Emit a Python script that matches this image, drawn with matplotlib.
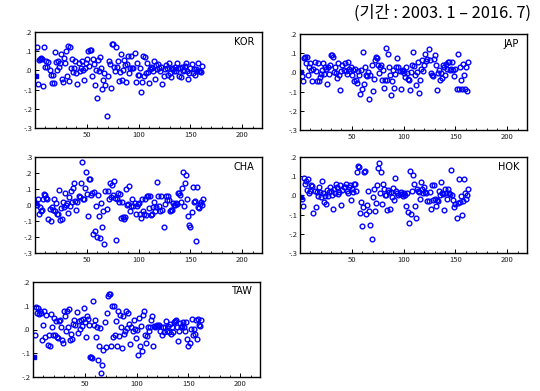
import matplotlib
matplotlib.use("Agg")
import matplotlib.pyplot as plt
import numpy as np
from matplotlib.ticker import MultipleLocator, FuncFormatter

plt.rcParams['font.family'] = ['Noto Sans CJK KR', 'DejaVu Sans']

kor = [-0.03, 0.12, -0.07, 0.055, 0.06, 0.065, 0.06, -0.08, 0.12, 0.02, 0.05, 0.02, 0.045, 0.0, -0.025, -0.065, -0.025, -0.065, 0.095, 0.045, 0.0, 0.05, 0.02, 0.04, 0.085, -0.045, -0.06, 0.065, 0.04, 0.1, -0.03, 0.125, -0.055, 0.12, 0.015, 0.06, -0.01, 0.015, 0.05, -0.015, -0.07, 0.04, -0.005, 0.015, 0.05, 0.0, -0.05, 0.015, 0.04, 0.06, 0.1, 0.025, 0.105, 0.105, -0.03, 0.06, 0.035, -0.075, 0.0, -0.145, 0.055, -0.005, 0.07, 0.015, -0.095, -0.05, -0.015, -0.075, -0.235, -0.03, 0.05, 0.035, -0.09, 0.135, 0.135, 0.02, -0.005, 0.12, 0.02, 0.05, -0.055, -0.01, 0.085, -0.05, 0.0, 0.055, 0.03, -0.06, 0.035, 0.075, -0.015, 0.01, 0.075, 0.01, 0.01, 0.09, -0.062, 0.04, -0.025, -0.025, 0.015, -0.115, -0.06, 0.075, -0.03, 0.07, -0.015, 0.04, -0.01, -0.065, 0.005, 0.02, 0.015, -0.005, 0.05, -0.045, 0.03, 0.005, 0.035, 0.015, -0.005, 0.02, -0.07, -0.03, 0.005, 0.03, 0.015, -0.025, 0.04, -0.015, -0.035, 0.015, 0.005, -0.005, 0.02, -0.005, 0.04, 0.01, -0.03, 0.015, -0.035, 0.02, -0.005, 0.0, 0.025, 0.04, -0.005, -0.045, -0.015, 0.015, 0.035, -0.015, 0.005, -0.025, 0.005, -0.005, 0.04, -0.005, -0.005, -0.008, 0.025]

jap = [0.0, -0.02, -0.045, 0.075, 0.08, 0.05, 0.08, -0.015, 0.03, 0.05, 0.012, -0.045, 0.02, 0.055, 0.005, -0.045, 0.05, -0.045, -0.025, -0.01, 0.01, 0.05, -0.008, 0.03, 0.02, -0.058, 0.03, -0.01, 0.04, 0.09, 0.09, 0.08, 0.0, 0.03, -0.005, -0.03, 0.05, -0.015, -0.09, 0.005, 0.04, 0.015, 0.05, 0.005, -0.008, 0.055, 0.02, 0.005, 0.03, -0.015, 0.015, -0.045, 0.02, -0.04, -0.055, 0.005, -0.015, -0.11, 0.015, -0.085, 0.105, -0.06, 0.03, -0.015, -0.02, 0.0, -0.14, -0.015, 0.04, -0.095, -0.035, 0.065, 0.08, 0.075, 0.04, -0.005, 0.03, 0.04, -0.04, 0.01, -0.08, -0.04, 0.125, -0.04, 0.095, 0.03, -0.015, -0.12, -0.045, 0.01, -0.08, -0.01, 0.03, 0.075, 0.03, 0.005, -0.085, 0.008, 0.01, -0.002, -0.025, 0.03, -0.002, -0.035, -0.04, -0.09, 0.0, 0.04, 0.105, 0.035, -0.015, -0.065, 0.0, 0.055, -0.105, -0.038, 0.02, 0.065, 0.005, 0.04, 0.095, 0.06, 0.07, 0.12, 0.065, -0.005, -0.015, -0.02, 0.07, 0.09, 0.04, -0.09, -0.005, 0.01, -0.04, -0.005, -0.03, 0.04, 0.03, -0.015, 0.045, 0.02, 0.055, 0.055, 0.01, 0.02, 0.055, 0.015, -0.02, 0.02, -0.085, 0.095, -0.085, 0.03, -0.04, -0.085, 0.045, -0.015, -0.088, 0.03, -0.098, 0.055]

cha = [0.01, 0.0, 0.035, -0.055, -0.01, -0.035, -0.03, 0.035, 0.07, 0.06, 0.045, 0.035, -0.085, -0.025, -0.1, -0.01, -0.03, 0.04, -0.04, 0.015, -0.055, -0.055, 0.095, -0.095, -0.02, -0.085, 0.02, -0.01, 0.075, 0.0, 0.01, -0.05, 0.05, -0.005, 0.085, 0.02, 0.105, 0.135, 0.025, -0.03, 0.02, 0.055, 0.05, 0.14, 0.27, 0.04, 0.035, 0.105, 0.205, 0.07, -0.07, 0.165, 0.165, 0.065, 0.075, -0.18, 0.08, -0.165, -0.005, -0.2, 0.065, -0.07, -0.205, 0.01, -0.135, -0.04, -0.245, 0.085, -0.025, 0.09, 0.04, 0.14, 0.05, 0.125, 0.06, 0.15, 0.045, -0.22, 0.04, 0.075, 0.02, 0.07, -0.08, 0.02, -0.075, -0.09, -0.078, 0.1, 0.0, 0.005, 0.12, -0.04, -0.005, 0.04, -0.005, 0.015, -0.055, -0.005, 0.005, 0.01, -0.055, -0.08, 0.04, -0.04, -0.055, 0.04, -0.06, 0.055, 0.055, -0.02, 0.055, -0.06, -0.055, -0.01, 0.02, -0.04, -0.01, 0.145, 0.055, -0.005, -0.035, 0.055, -0.03, -0.14, 0.005, 0.055, 0.03, 0.055, 0.03, -0.04, -0.03, -0.03, 0.01, 0.0, 0.0, 0.01, 0.005, 0.075, 0.075, 0.065, 0.02, 0.105, 0.205, -0.005, 0.135, 0.185, 0.04, -0.07, -0.125, -0.14, -0.045, 0.11, 0.02, 0.025, -0.225, 0.115, -0.01, -0.02, 0.005, 0.02, 0.0, 0.035]

hok = [-0.01, -0.02, -0.055, 0.09, 0.06, 0.075, 0.03, 0.085, 0.012, 0.025, 0.055, 0.05, -0.09, 0.025, -0.06, 0.02, -0.005, 0.045, 0.02, -0.008, 0.075, 0.012, -0.035, -0.005, -0.045, 0.03, -0.005, 0.02, 0.045, 0.025, 0.0, -0.07, 0.035, 0.01, 0.06, 0.045, 0.005, 0.02, 0.055, -0.048, 0.03, 0.045, 0.045, 0.06, 0.025, 0.01, 0.045, 0.055, -0.022, 0.035, 0.02, 0.06, 0.06, 0.025, 0.12, 0.155, 0.15, -0.09, -0.035, -0.158, -0.06, 0.12, 0.125, -0.095, -0.05, 0.025, -0.08, -0.155, -0.225, -0.008, 0.035, -0.08, -0.04, 0.055, 0.145, 0.17, 0.012, 0.12, -0.045, 0.06, 0.035, 0.0, 0.0, -0.078, 0.03, 0.02, -0.07, 0.02, -0.008, 0.04, -0.025, 0.09, 0.025, 0.012, 0.0, 0.005, 0.02, 0.005, -0.005, 0.01, 0.0, -0.055, 0.01, -0.088, -0.145, 0.125, -0.095, 0.025, 0.105, 0.06, -0.055, -0.118, 0.035, 0.025, 0.02, -0.02, 0.07, 0.035, 0.012, 0.045, 0.02, 0.012, -0.03, -0.03, 0.02, -0.07, 0.055, -0.022, 0.055, -0.018, -0.055, -0.025, -0.03, 0.025, 0.0, 0.07, 0.01, 0.005, -0.078, 0.035, 0.01, -0.018, 0.035, 0.012, 0.005, 0.13, 0.0, -0.025, -0.06, -0.045, -0.12, -0.04, 0.085, -0.035, -0.005, -0.1, -0.028, 0.085, 0.012, -0.018, 0.0, 0.035]

taw = [-0.115, -0.025, 0.095, 0.07, 0.09, 0.065, 0.08, 0.07, -0.045, 0.02, 0.08, -0.03, 0.06, -0.065, -0.025, -0.07, 0.065, 0.012, -0.025, 0.05, -0.025, 0.035, -0.03, -0.035, 0.035, 0.04, 0.012, -0.045, -0.057, 0.08, 0.055, -0.005, 0.08, 0.01, 0.085, -0.045, -0.02, -0.04, 0.025, 0.04, 0.02, 0.075, -0.015, 0.035, 0.002, 0.04, 0.015, 0.045, 0.09, 0.03, -0.032, 0.055, 0.045, 0.02, -0.115, -0.115, -0.118, 0.118, 0.02, 0.04, -0.032, 0.012, -0.128, -0.068, 0.005, -0.185, -0.15, -0.085, 0.03, -0.075, 0.07, 0.143, 0.148, 0.15, -0.068, 0.1, -0.032, 0.1, -0.025, 0.035, -0.068, 0.08, -0.028, 0.06, 0.01, -0.078, 0.058, -0.018, -0.005, 0.08, 0.005, 0.07, 0.025, -0.06, 0.012, -0.005, 0.04, 0.002, -0.037, -0.002, -0.106, 0.048, -0.068, 0.015, -0.09, 0.06, 0.08, -0.025, -0.057, -0.028, 0.01, -0.005, 0.012, 0.042, 0.058, -0.07, 0.015, 0.01, 0.015, 0.02, 0.015, 0.02, -0.005, -0.022, 0.012, -0.012, 0.01, 0.035, -0.005, 0.015, -0.012, 0.025, -0.018, 0.01, -0.012, 0.03, 0.035, 0.038, 0.012, -0.05, -0.005, 0.028, 0.01, 0.015, 0.03, 0.01, -0.008, 0.03, -0.04, -0.07, -0.057, 0.002, 0.045, -0.025, 0.002, -0.018, 0.038, -0.04, 0.045, 0.02, 0.015, 0.038]

names = ["KOR", "JAP", "CHA", "HOK", "TAW"]
series = [kor, jap, cha, hok, taw]
ylims = [(-0.3, 0.2), (-0.3, 0.2), (-0.3, 0.3), (-0.3, 0.2), (-0.2, 0.2)]
xticks = [50, 100, 150, 200]
title = "(기간 : 2003. 1 – 2016. 7)"

W, H = 540, 391
# pixel boxes: left, right, top, bottom
boxes = [(35, 262, 32, 128), (300, 527, 34, 130), (35, 262, 157, 253),
         (300, 527, 157, 253), (33, 260, 282, 377)]

fig = plt.figure(figsize=(W / 100, H / 100), dpi=100)

def fmt(v, pos):
    s = f"{v:.1f}"
    s = s.replace("0.", ".")
    if s == "-.0":
        s = ".0"
    return s

for name, vals, yl, (l, r, t, b) in zip(names, series, ylims, boxes):
    ax = fig.add_axes([l / W, 1 - b / H, (r - l) / W, (b - t) / H])
    x = np.arange(1, len(vals) + 1)
    ax.plot(x[1:], vals[1:], linestyle='none', marker='o', markersize=3.4,
            markerfacecolor='none', markeredgecolor='#0000ff', markeredgewidth=1.0)
    ax.plot(x[:1], vals[:1], linestyle='none', marker='s', markersize=3,
            color='#0000ff')
    ax.set_xlim(0, 219)
    ax.set_ylim(*yl)
    ax.set_xticks(xticks)
    ax.xaxis.set_minor_locator(MultipleLocator(10))
    ax.yaxis.set_major_locator(MultipleLocator(0.1))
    ax.yaxis.set_major_formatter(FuncFormatter(fmt))
    ax.tick_params(axis='both', which='major', direction='in', length=3,
                   width=0.7, labelsize=5.5, pad=2, colors='black',
                   labelcolor='#222222')
    ax.tick_params(axis='x', which='minor', direction='in', length=1.8, width=0.6)
    for sp in ax.spines.values():
        sp.set_linewidth(1.0)
        sp.set_color('black')
    ax.text(0.965, 0.9, name, transform=ax.transAxes, ha='right', va='center',
            fontsize=7, family=['DejaVu Sans'])

fig.text(531 / W, 1 - 13 / H, title, ha='right', va='center', fontsize=11.8)

fig.savefig("out.png", dpi=100)
